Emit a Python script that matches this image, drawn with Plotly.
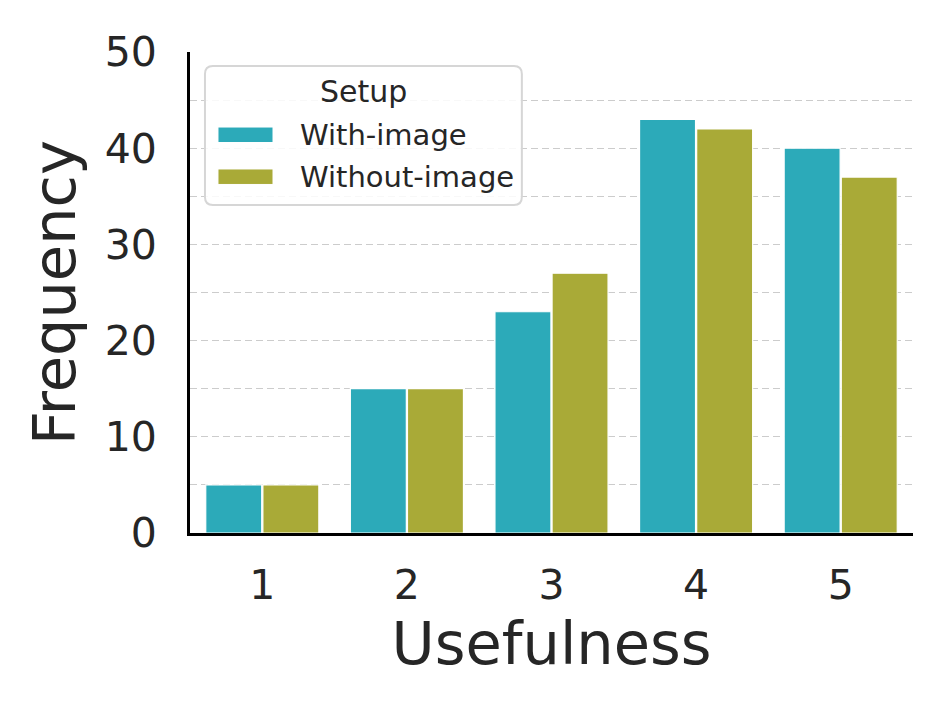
import plotly.graph_objects as go

usefulness = [1, 2, 3, 4, 5]
with_image = [5, 15, 23, 43, 40]
without_image = [5, 15, 27, 42, 37]
series_names = ["With-image", "Without-image"]
colors = ["#2CAAB9", "#A9AA37"]

font = "DejaVu Sans"

fig = go.Figure()
for name, vals, col in zip(series_names, [with_image, without_image], colors):
    fig.add_trace(go.Bar(x=usefulness, y=vals, name=name, showlegend=False,
                         marker=dict(color=col, line=dict(color="white", width=1.2))))

# page body has an 8px margin, so shrink the figure to fit the window
fig.update_layout(
    width=931, height=694,
    margin=dict(l=182, r=26, t=44, b=169),
    plot_bgcolor="white", paper_bgcolor="white",
    font=dict(family=font, color="#262626"),
    barmode="group", bargap=0.21, bargroupgap=0.02,
)

# legend drawn by hand so the swatches can be wide rectangles
x0, x1, y0, y1, rx, ry = 0.0207, 0.459, 0.682, 0.971, 0.011, 0.0166
path = (f"M {x0+rx} {y0} L {x1-rx} {y0} Q {x1} {y0} {x1} {y0+ry} "
        f"L {x1} {y1-ry} Q {x1} {y1} {x1-rx} {y1} L {x0+rx} {y1} "
        f"Q {x0} {y1} {x0} {y1-ry} L {x0} {y0+ry} Q {x0} {y0} {x0+rx} {y0} Z")
fig.add_shape(type="path", path=path, xref="paper", yref="paper",
              line=dict(color="#d6d6d6", width=2), fillcolor="rgba(255,255,255,0.85)", layer="above")
fig.add_annotation(text="Setup", x=0.2395, y=0.917, xref="paper", yref="paper",
                   showarrow=False, font=dict(size=30), xanchor="center", yanchor="middle")
for i, (name, col) in enumerate(zip(series_names, colors)):
    ytop = 0.844 - i * 0.0872
    fig.add_shape(type="rect", xref="paper", yref="paper", x0=0.0387, x1=0.1148,
                  y0=ytop - 0.0322, y1=ytop, fillcolor=col, line=dict(color="white", width=1),
                  layer="above")
    fig.add_annotation(text=name, x=0.149, y=ytop - 0.0161, xref="paper", yref="paper",
                       showarrow=False, font=dict(size=29), xanchor="left", yanchor="middle")

fig.update_xaxes(
    range=[0.5, 5.5], tickmode="array", tickvals=usefulness,
    tickfont=dict(size=41), ticks="outside", ticklen=14, tickcolor="white",
    showline=True, linecolor="black", linewidth=3,
    showgrid=False,
    title=dict(text="Usefulness", font=dict(size=59), standoff=12),
)
fig.update_yaxes(
    range=[0, 50], dtick=10,
    tickfont=dict(size=41), ticks="outside", ticklen=22, tickcolor="white",
    showline=True, linecolor="black", linewidth=3,
    showgrid=True, gridcolor="#cccccc", griddash="7px,4px", gridwidth=1.3,
    minor=dict(dtick=5, showgrid=True, gridcolor="#cccccc", griddash="7px,4px", gridwidth=1.3),
    zeroline=False,
    title=dict(text="Frequency", font=dict(size=59), standoff=10),
)

fig.write_html("out.html")
